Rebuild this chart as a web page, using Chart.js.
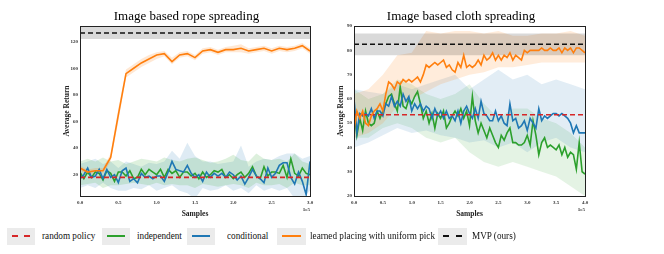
<!DOCTYPE html>
<html>
<head>
<meta charset="utf-8">
<script src="https://cdn.jsdelivr.net/npm/chart.js@4.4.1/dist/chart.umd.min.js"></script>
<style>
  body { margin: 0; background: #fff; width: 664px; height: 254px; position: relative; overflow: hidden;
         font-family: "Liberation Serif", "DejaVu Serif", serif; }
  .panel { position: absolute; top: 0; }
  .lg-box { position: absolute; top: 228px; height: 17px; background: #ebebeb; }
  .lg-line { position: absolute; left: 5px; right: 5px; top: 7px; height: 0; border-top-width: 2px; }
  .lg-text { position: absolute; top: 228px; line-height: 17px; font-size: 9.2px; color: #111; white-space: nowrap;
             transform: scaleY(1.15); transform-origin: left center; }
</style>
</head>
<body>
<div class="panel" style="left:40px;width:310px;height:220px"><canvas id="ropeChart" width="310" height="220"></canvas></div>
<div class="panel" style="left:314px;width:320px;height:220px"><canvas id="clothChart" width="320" height="220"></canvas></div>

<div class="lg-box" style="left:7px;width:28px"><div class="lg-line" style="border-top-style:dashed;border-top-color:#d62728"></div></div>
<div class="lg-text" style="left:42px">random policy</div>
<div class="lg-box" style="left:102px;width:28px"><div class="lg-line" style="border-top-style:solid;border-top-color:#2ca02c"></div></div>
<div class="lg-text" style="left:137px">independent</div>
<div class="lg-box" style="left:187px;width:28px"><div class="lg-line" style="border-top-style:solid;border-top-color:#1f77b4"></div></div>
<div class="lg-text" style="left:227px">conditional</div>
<div class="lg-box" style="left:277px;width:29px"><div class="lg-line" style="border-top-style:solid;border-top-color:#ff7f0e"></div></div>
<div class="lg-text" style="left:310px">learned placing with uniform pick</div>
<div class="lg-box" style="left:438px;width:29px"><div class="lg-line" style="border-top-style:dashed;border-top-color:#111"></div></div>
<div class="lg-text" style="left:472px">MVP (ours)</div>

<script>
// ---------- rope spreading (x in 1e5 samples) ----------
const ropeXMax = 3.0;
const ropeYTicks = [20, 40, 60, 80, 100, 120];
const ropeRandom = 18;
const ropeMvp = 126.5;
const ropeMvpBand = [122, 131];
// orange sampled every 0.1, green/blue every 0.05
const ropeOrange = [25,22,23,23,33,65,96,100,104,107,110,111,105,110,111,108,113,114,112,114,114,115,113,114,115,113,115,114,115,117,113];
const ropeOrangeLow = [23,20,21,21,30,60,93,97,101,104,107,109,103,108,109,106,111,112,110,112,112,112,111,112,113,111,113,112,113,115,111];
const ropeOrangeHigh = [27,24,25,25,36,70,99,103,107,110,112,113,108,112,113,110,115,116,114,116,117,118,115,116,117,115,117,116,117,119,115];
const ropeGreen = [22,17,22,18,22,21,16,23,21,15,22,22,19,23,17,18,24,20,24,22,20,24,18,24,21,23,18,22,22,19,21,17,22,18,20,23,22,24,18,20,17,20,22,18,21,26,19,17,26,19,22,22,21,27,18,32,21,19,25,21,20];
const ropeBlue = [17,20,25,18,19,24,17,24,18,20,14,23,25,15,17,14,21,18,19,17,19,19,15,22,30,24,23,22,27,21,18,20,15,22,18,21,19,21,18,22,20,16,19,13,18,24,19,17,14,25,18,21,27,29,29,18,13,22,15,5,30];
// bands for green/blue sampled every 0.1
const ropeGreenLow = [12,13,14,10,12,12,13,14,13,12,14,12,13,12,12,10,13,12,11,12,13,12,10,14,12,12,13,10,14,12,12];
const ropeGreenHigh = [30,32,30,33,30,31,28,30,32,31,30,33,31,30,32,33,31,29,30,32,35,31,30,36,32,31,32,30,36,30,28];
const ropeBlueLow = [10,12,10,14,10,8,8,10,9,12,8,10,12,8,6,2,10,8,9,12,8,10,6,12,8,10,8,10,2,2,8];
const ropeBlueHigh = [28,30,32,28,30,25,30,28,26,29,28,30,38,32,44,34,30,30,28,29,30,42,26,30,32,31,34,36,36,32,34];

// ---------- cloth spreading ----------
const clothXMax = 4.0;
const clothYTicks = [20, 30, 40, 50, 60, 70, 80, 90];
const clothRandom = 53.5;
const clothMvp = 82.5;
const clothMvpBand = [78, 87];
// lines sampled every 0.05
const clothOrange = [47,55,52,55,50,49,53,55,56,58,55,62,67,66,64,67,66,68,67,68,67,68,69,67,70,74,73,74,75,74,75,76,73,74,72,71,75,73,78,73,74,73,74,76,74,78,76,77,79,76,78,76,78,77,79,76,78,77,76,80,79,80,80,80,80,81,80,80,81,80,80,81,79,81,80,81,79,81,81,80,79];
const clothGreen = [55,45,52,47,55,50,49,50,55,52,55,58,61,62,58,55,65,57,56,60,58,61,63,58,52,55,50,54,48,54,52,55,48,50,53,55,53,56,52,55,49,61,51,46,50,47,44,48,45,42,40,45,43,46,48,42,42,41,41,42,45,41,51,45,37,42,44,40,41,40,39,41,37,40,36,38,37,31,42,30,29];
const clothBlue = [60,46,54,53,54,53,56,52,55,55,53,58,57,61,57,59,57,62,59,61,55,58,56,58,55,57,56,52,56,53,55,52,55,52,53,51,55,50,55,57,54,52,56,52,59,54,53,51,51,55,51,53,50,49,58,51,52,48,49,51,47,52,50,48,56,51,53,52,53,54,54,53,54,53,52,50,46,49,46,46,46];
// bands sampled every 0.25
const clothOrangeLow = [44,46,50,57,60,63,66,68,70,71,73,73,74,75,75,75,75];
const clothOrangeHigh = [62,64,70,78,79,88,87,88,88,87,88,86,86,87,87,88,86];
const clothBlueLow = [40,42,45,48,46,47,45,44,42,43,40,42,38,42,44,40,38];
const clothBlueHigh = [64,63,62,66,64,66,68,70,64,68,72,68,70,66,68,66,64];
const clothGreenLow = [44,44,48,50,48,44,42,44,38,34,32,34,32,30,28,24,20];
const clothGreenHigh = [64,60,62,68,66,62,60,62,66,58,52,56,56,52,50,46,40];

const ORANGE = '#ff7f0e', GREEN = '#2ca02c', BLUE = '#1f77b4', RED = '#d62728';
const FONT = '"Liberation Serif", "DejaVu Serif", serif';

function pts(values, step) {
    return values.map((v, i) => ({ x: +(i * step).toFixed(3), y: v }));
}

function band(low, high, step, color, order) {
    return [
        { data: pts(low, step), borderWidth: 0, pointRadius: 0, fill: false, order: order },
        { data: pts(high, step), borderWidth: 0, pointRadius: 0, fill: '-1', backgroundColor: color, order: order },
    ];
}

function line(values, step, color, order, dash) {
    return { data: pts(values, step), borderColor: color, borderWidth: 1.6, pointRadius: 0, fill: false,
             order: order, tension: 0, borderDash: dash || [] };
}

const boxPlugin = {
    id: 'box',
    afterDraw(chart) {
        const a = chart.chartArea;
        const ctx = chart.ctx;
        ctx.save();
        ctx.strokeStyle = '#222';
        ctx.lineWidth = 1;
        ctx.strokeRect(Math.round(a.left) + 0.5, Math.round(a.top) + 0.5, Math.round(a.right - a.left), Math.round(a.bottom - a.top));
        ctx.fillStyle = '#333';
        ctx.font = 'bold 5px ' + FONT;
        ctx.textAlign = 'right';
        ctx.fillText('1e5', a.right, a.bottom + 15);
        ctx.restore();
    }
};

function makeChart(id, title, datasets, xMax, yMin, yMax, yTicks, padRight) {
    const ctx = document.getElementById(id).getContext('2d');
    return new Chart(ctx, {
        type: 'line',
        data: { datasets: datasets },
        options: {
            responsive: false,
            animation: false,
            layout: { padding: { left: 23, right: padRight, top: 0, bottom: 1 } },
            plugins: {
                legend: { display: false },
                tooltip: { enabled: false },
                title: {
                    display: true, text: title, color: '#000',
                    font: { family: FONT, size: 13, weight: 'normal' },
                    padding: { top: 9, bottom: 1.5 },
                },
            },
            scales: {
                x: {
                    type: 'linear', min: 0, max: xMax,
                    grid: { display: false, drawTicks: false }, border: { display: false },
                    ticks: { stepSize: 0.5, padding: 4, color: '#333', font: { family: FONT, size: 5, weight: 'bold' },
                             callback: v => v.toFixed(1), maxRotation: 0, autoSkip: false },
                    title: { display: true, text: 'Samples', color: '#222', padding: 0,
                             font: { family: FONT, size: 7.5, weight: 'bold' } },
                },
                y: {
                    min: yMin, max: yMax,
                    grid: { display: false, drawTicks: false }, border: { display: false },
                    afterBuildTicks: s => { s.ticks = yTicks.map(v => ({ value: v })); },
                    afterFit: s => { s.width = 17; },
                    ticks: { padding: 2, color: '#333', font: { family: FONT, size: 5, weight: 'bold' } },
                    title: { display: true, text: 'Average Return', color: '#222', padding: 0,
                             font: { family: FONT, size: 7.5, weight: 'bold' } },
                },
            },
        },
        plugins: [boxPlugin],
    });
}

const ropeSets = [
    line([ropeMvp, ropeMvp], ropeXMax, '#111', 0, [5, 3]),
    line(ropeOrange, 0.1, ORANGE, 1),
    line(ropeGreen, 0.05, GREEN, 3),
    line(ropeBlue, 0.05, BLUE, 2),
    line([ropeRandom, ropeRandom], ropeXMax, RED, 1, [5, 3]),
    ...band([ropeMvpBand[0], ropeMvpBand[0]], [ropeMvpBand[1], ropeMvpBand[1]], ropeXMax, 'rgba(0,0,0,0.15)', 9),
    ...band(ropeOrangeLow, ropeOrangeHigh, 0.1, 'rgba(255,127,14,0.18)', 9),
    ...band(ropeGreenLow, ropeGreenHigh, 0.1, 'rgba(44,160,44,0.16)', 9),
    ...band(ropeBlueLow, ropeBlueHigh, 0.1, 'rgba(31,119,180,0.15)', 9),
];

const clothSets = [
    line([clothMvp, clothMvp], clothXMax, '#111', 0, [5, 3]),
    line(clothOrange, 0.05, ORANGE, 1),
    line(clothGreen, 0.05, GREEN, 3),
    line(clothBlue, 0.05, BLUE, 2),
    line([clothRandom, clothRandom], clothXMax, RED, 1, [5, 3]),
    ...band([clothMvpBand[0], clothMvpBand[0]], [clothMvpBand[1], clothMvpBand[1]], clothXMax, 'rgba(0,0,0,0.15)', 9),
    ...band(clothOrangeLow, clothOrangeHigh, 0.25, 'rgba(255,127,14,0.15)', 9),
    ...band(clothBlueLow, clothBlueHigh, 0.25, 'rgba(31,119,180,0.13)', 9),
    ...band(clothGreenLow, clothGreenHigh, 0.25, 'rgba(44,160,44,0.13)', 9),
];

makeChart('ropeChart', 'Image based rope spreading', ropeSets, ropeXMax, 4, 131.7, ropeYTicks, 40);
makeChart('clothChart', 'Image based cloth spreading', clothSets, clothXMax, 20, 90, clothYTicks, 49);
</script>
</body>
</html>
